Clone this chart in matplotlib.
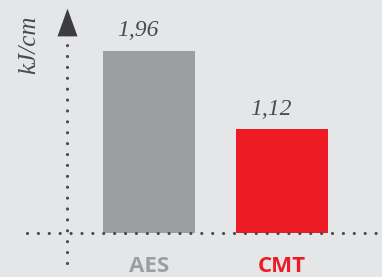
import matplotlib
matplotlib.use("Agg")
import matplotlib.pyplot as plt

categories = ["AES", "CMT"]
values = [1.96, 1.12]
value_labels = ["1,96", "1,12"]
unit_label = "kJ/cm"

bar_colors = ["#9d9ea1", "#ed1c24"]
bg = "#e5e6e8"
dot_color = "#4a4b4d"

W, H = 382, 277
fig = plt.figure(figsize=(W / 100, H / 100), dpi=100, facecolor=bg)
ax = fig.add_axes([0, 0, 1, 1])
ax.set_facecolor(bg)

# pixel mapping helpers (layout only)
px_per_x = 133.0
x0_px = 149.0
px_per_y = 93.0
y0_px = 233.0
ax.set_xlim((0 - x0_px) / px_per_x, (W - x0_px) / px_per_x)
ax.set_ylim(-(H - y0_px) / px_per_y, y0_px / px_per_y)
ax.axis("off")

xs = list(range(len(categories)))
ax.bar(xs, values, width=92 / px_per_x, color=bar_colors, zorder=2)

dash = (0, (0.01, 3.4))
lw = 2.3
# horizontal dotted baseline
ax.plot([(27 - x0_px) / px_per_x, (380 - x0_px) / px_per_x], [0, 0],
        linestyle=dash, color=dot_color, lw=lw, dash_capstyle="round",
        solid_capstyle="round", zorder=3)
# vertical dotted axis
vx = (67 - x0_px) / px_per_x
ax.plot([vx, vx], [-(263 - y0_px) / px_per_y, (y0_px - 38) / px_per_y],
        linestyle=dash, color=dot_color, lw=lw, dash_capstyle="round", zorder=3)
# arrow head
tri = [(-0.36, -0.5), (0.36, -0.5), (0, 0.5), (-0.36, -0.5)]
ax.plot([vx], [(y0_px - 22) / px_per_y], marker=tri, markersize=20,
        color="#3d3d3f", markeredgewidth=0, zorder=4)

for x, v, lab in zip(xs, values, value_labels):
    ax.text(x - 0.08, v + 0.1, lab, ha="center", va="bottom",
            fontsize=17, fontstyle="italic", family="Liberation Serif",
            color="#4a4b4d")

ax.text((29 - x0_px) / px_per_x, (y0_px - 45) / px_per_y, unit_label,
        rotation=90, ha="center", va="center", fontsize=18,
        fontstyle="italic", family="Liberation Serif", color="#4a4b4d")

for x, c, col in zip(xs, categories, bar_colors):
    ax.text(x, -(267 - y0_px) / px_per_y, c, ha="center", va="center",
            fontsize=16, fontweight="bold", family="Open Sans", color=col)

fig.savefig("out.png", dpi=100, facecolor=bg)
